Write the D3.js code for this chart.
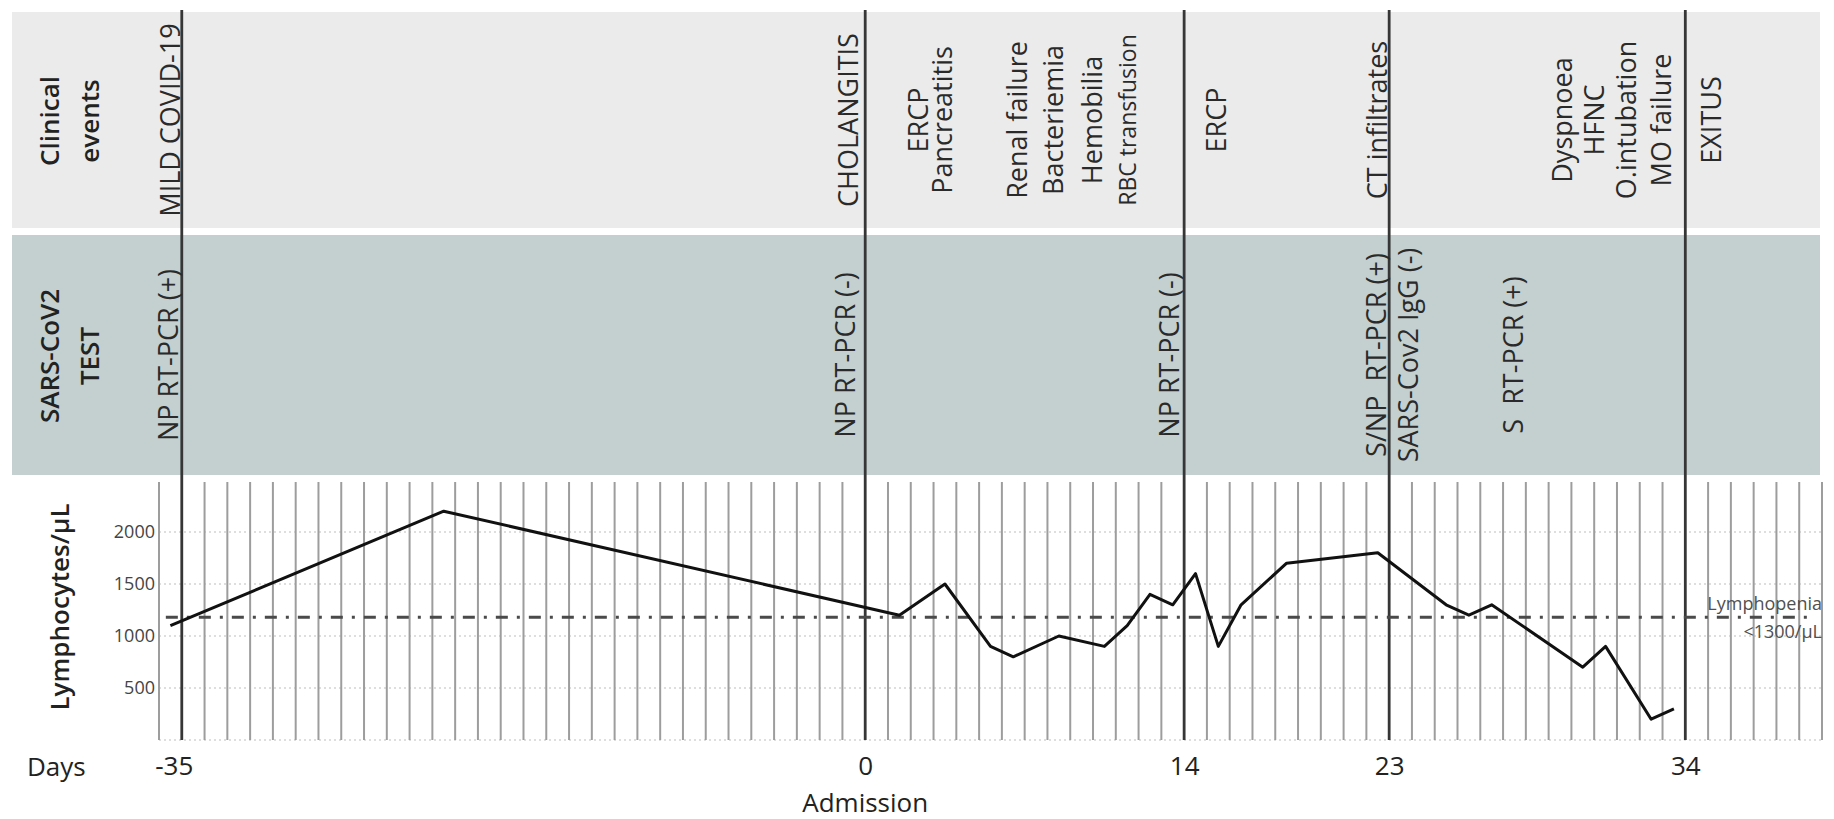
<!DOCTYPE html>
<html><head><meta charset="utf-8">
<script src="https://cdn.jsdelivr.net/npm/d3@7"></script>
<style>
body{margin:0;background:#fff;}
svg text{font-family:"Open Sans","Noto Sans",sans-serif;}
</style></head><body>
<svg id="chart" width="1834" height="819"></svg>
<script>
// ---- data (x positions are grid-slot indices of the day grid) ----
const slots = [0.5, 12.5, 32.5, 34.5, 36.5, 37.5, 39.5, 41.5, 42.5, 43.5, 44.5, 45.5, 46.5, 47.5, 49.5, 53.5, 56.5, 57.5, 58.5, 62.5, 63.5, 65.5, 66.5];
const lymphocytes = [1100, 2200, 1200, 1500, 900, 800, 1000, 900, 1100, 1400, 1300, 1600, 900, 1300, 1700, 1800, 1300, 1200, 1300, 700, 900, 200, 300];
const lymphopeniaLevel = 1180;
const yTicks = [500, 1000, 1500, 2000];
const dayTickSlots = [1, 31, 45, 54, 67];
const dayTickLabels = ["-35", "0", "14", "23", "34"];
const eventLineSlots = [1, 31, 45, 54, 67];
const clinicalText = ["MILD COVID-19", "CHOLANGITIS", "ERCP", "Pancreatitis", "Renal failure", "Bacteriemia", "Hemobilia", "RBC transfusion", "ERCP", "CT infiltrates", "Dyspnoea", "HFNC", "O.intubation", "MO failure", "EXITUS"];
const clinicalSlot = [0.9, 30.7, 33.76, 34.81, 38.1, 39.68, 41.4, 42.89, 46.84, 53.9, 62.03, 63.43, 64.85, 66.37, 68.55];
const testText = ["NP RT-PCR (+)", "NP RT-PCR (-)", "NP RT-PCR (-)", "S/NP  RT-PCR (+)", "SARS-Cov2 IgG (-)", "S  RT-PCR (+)"];
const testSlot = [0.83, 30.55, 44.78, 53.86, 55.27, 59.88];
const slotMax = 73;

const svg = d3.select("#chart");
const x = d3.scaleLinear().domain([0, slotMax]).range([159, 1822]);
const y = d3.scaleLinear().domain([0, 2500]).range([740, 480]);

// panels
svg.append("rect").attr("x", 12).attr("y", 12).attr("width", 1808).attr("height", 216).attr("fill", "#ebebeb");
svg.append("rect").attr("x", 12).attr("y", 235).attr("width", 1808).attr("height", 240).attr("fill", "#c3d0cf");

// horizontal faint gridlines
svg.append("g").selectAll("line").data([0].concat(yTicks)).join("line")
  .attr("x1", x(0)).attr("x2", x(slotMax))
  .attr("y1", d => y(d)).attr("y2", d => y(d))
  .attr("stroke", "#d4d4d4").attr("stroke-width", 1.5).attr("stroke-dasharray", "2,3");

// vertical day grid
svg.append("g").selectAll("line").data(d3.range(0, slotMax + 1).filter(s => !eventLineSlots.includes(s))).join("line")
  .attr("x1", d => x(d)).attr("x2", d => x(d))
  .attr("y1", y(2480)).attr("y2", y(0))
  .attr("stroke", "#9d9d9d").attr("stroke-width", 2);

// event lines
svg.append("g").selectAll("line").data(eventLineSlots).join("line")
  .attr("x1", d => x(d)).attr("x2", d => x(d))
  .attr("y1", 10).attr("y2", y(0))
  .attr("stroke", "#363636").attr("stroke-width", 2.8);

// lymphopenia threshold
svg.append("line")
  .attr("x1", x(0.3)).attr("x2", x(72.7))
  .attr("y1", y(lymphopeniaLevel)).attr("y2", y(lymphopeniaLevel))
  .attr("stroke", "#4a4a4a").attr("stroke-width", 3).attr("stroke-dasharray", "12,9,3,9");

// data line
const pts = slots.map((s, i) => [s, lymphocytes[i]]);
svg.append("path").datum(pts)
  .attr("d", d3.line().x(d => x(d[0])).y(d => y(d[1])))
  .attr("fill", "none").attr("stroke", "#111").attr("stroke-width", 3).attr("stroke-linejoin", "round");

// event texts
function rotLabels(texts, slotsArr, cy) {
  svg.append("g").selectAll("text").data(texts).join("text")
    .attr("transform", (d, i) => `translate(${x(slotsArr[i])},${cy}) rotate(-90)`)
    .attr("text-anchor", "middle")
    .attr("font-size", d => d === "RBC transfusion" ? 23 : 27)
    .attr("fill", "#2a2a2a")
    .style("white-space", "pre")
    .text(d => d);
}
rotLabels(clinicalText, clinicalSlot, 120);
rotLabels(testText, testSlot, 355);

// row titles
function rowTitle(lines, baselines, cy) {
  lines.forEach((t, i) => {
    svg.append("text")
      .attr("transform", `translate(${baselines[i]},${cy}) rotate(-90)`)
      .attr("text-anchor", "middle").attr("font-size", 26).attr("font-weight", 600)
      .attr("fill", "#222").text(t);
  });
}
rowTitle(["Clinical", "events"], [59, 99], 121);
rowTitle(["SARS-CoV2", "TEST"], [59, 99], 356);
rowTitle(["Lymphocytes/\u03bcL"], [69], 607);

// axes
const yAxis = svg.append("g").attr("transform", `translate(${x(0)},0)`)
  .call(d3.axisLeft(y).tickValues(yTicks).tickSize(0).tickPadding(4).tickFormat(d3.format("d")));
yAxis.select(".domain").remove();
yAxis.attr("font-family", null);
yAxis.selectAll("text").attr("font-size", 18).attr("fill", "#444");

const xAxis = svg.append("g").attr("transform", `translate(0,${y(0)})`)
  .call(d3.axisBottom(x).tickValues(dayTickSlots).tickSize(0).tickPadding(17).tickFormat((d, i) => dayTickLabels[i]));
xAxis.select(".domain").remove();
xAxis.attr("font-family", null);
xAxis.selectAll("text").attr("font-size", 26).attr("fill", "#222")
  .attr("dx", (d, i) => i === 0 ? -8 : 0);

svg.append("text").attr("x", 27).attr("y", 776).attr("font-size", 26).attr("fill", "#222").text("Days");
svg.append("text").attr("x", x(31)).attr("y", 812).attr("text-anchor", "middle").attr("font-size", 26).attr("fill", "#222").text("Admission");

// lymphopenia label
svg.append("text").attr("x", 1822).attr("y", 610).attr("text-anchor", "end").attr("font-size", 18).attr("fill", "#505050").text("Lymphopenia");
svg.append("text").attr("x", 1822).attr("y", 638).attr("text-anchor", "end").attr("font-size", 18).attr("fill", "#505050").text("<1300/\u03bcL");
</script>
</body></html>
